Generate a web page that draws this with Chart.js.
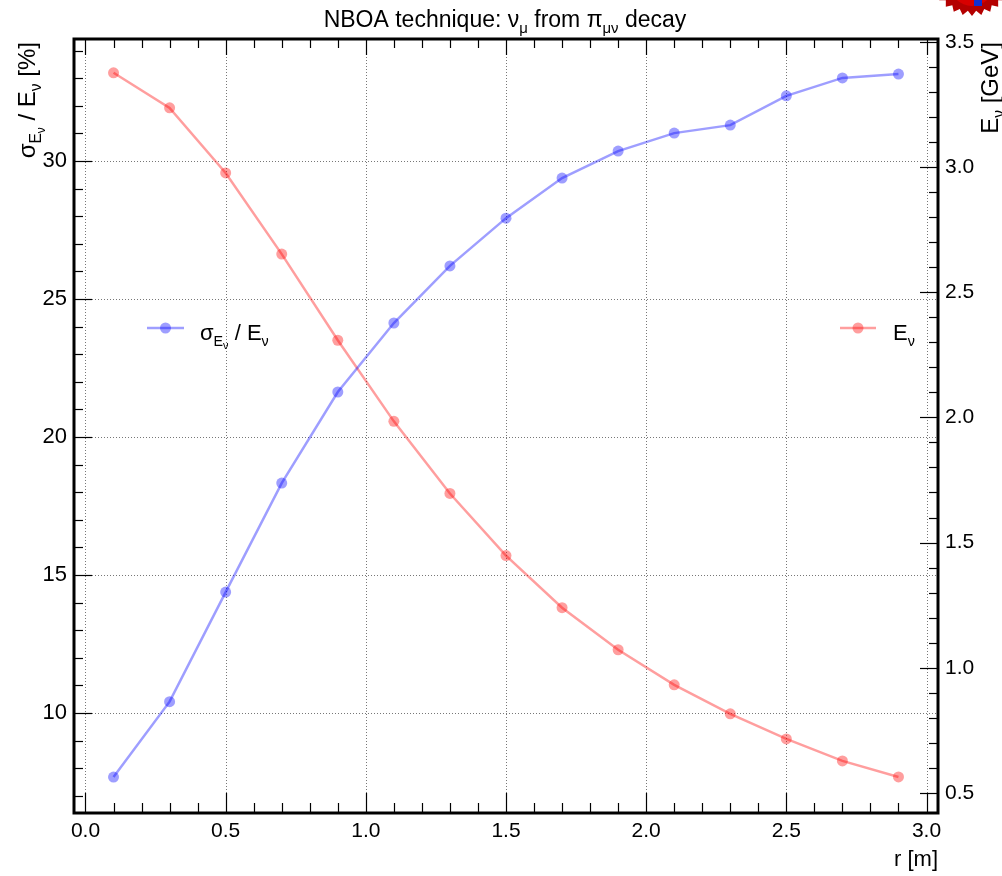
<!DOCTYPE html>
<html>
<head>
<meta charset="utf-8">
<script src="https://cdn.jsdelivr.net/npm/chart.js@4/dist/chart.umd.min.js"></script>
<style>
  html, body { margin: 0; padding: 0; background: #fff; }
  canvas { display: block; }
</style>
</head>
<body>
<canvas id="nboaChart" width="1002" height="876"></canvas>
<script>
// radius r [m] of the measurement points
const radius = [0.1, 0.3, 0.5, 0.7, 0.9, 1.1, 1.3, 1.5, 1.7, 1.9, 2.1, 2.3, 2.5, 2.7, 2.9];
// energy resolution sigma_E / E [%] (left axis)
const resolution = [7.68, 10.41, 14.38, 18.33, 21.63, 24.13, 26.20, 27.93, 29.38, 30.36, 31.01, 31.30, 32.36, 33.01, 33.15];
// mean neutrino energy E [GeV] (right axis)
const energy = [3.376, 3.236, 2.976, 2.652, 2.308, 1.984, 1.696, 1.448, 1.240, 1.072, 0.932, 0.816, 0.716, 0.628, 0.564];

// tick labels
const xTicks = [0.0, 0.5, 1.0, 1.5, 2.0, 2.5, 3.0];
const leftTicks = [10, 15, 20, 25, 30];
const rightTicks = [0.5, 1.0, 1.5, 2.0, 2.5, 3.0, 3.5];

const FONT = "'Liberation Sans', Arial, Helvetica, sans-serif";
const BLUE = 'rgba(0, 0, 255, 0.38)';
const RED = 'rgba(255, 0, 0, 0.38)';

// draw text made of parts: lvl 0 normal, 1 subscript, 2 sub-subscript
function richWidth(ctx, parts, size) {
    let w = 0;
    parts.forEach(p => {
        const s = size * [1, 0.65, 0.5][p.lvl || 0];
        ctx.font = `${s}px ${FONT}`;
        w += ctx.measureText(p.t).width;
    });
    return w;
}

function drawRich(ctx, parts, x, y, size, align) {
    const total = richWidth(ctx, parts, size);
    let cx = x;
    if (align === 'center') cx = x - total / 2;
    if (align === 'right') cx = x - total;
    ctx.textAlign = 'left';
    ctx.textBaseline = 'alphabetic';
    parts.forEach(p => {
        const lvl = p.lvl || 0;
        const s = size * [1, 0.65, 0.5][lvl];
        const dy = size * [0, 0.25, 0.42][lvl];
        ctx.font = `${s}px ${FONT}`;
        ctx.fillText(p.t, cx, y + dy);
        cx += ctx.measureText(p.t).width;
    });
}

function minorValues(min, max, step) {
    const out = [];
    for (let k = Math.ceil(min / step - 1e-6); k * step <= max + 1e-9; k++) out.push(+(k * step).toFixed(4));
    return out;
}

const rootStylePlugin = {
    id: 'rootStyle',
    beforeDatasetsDraw(chart) {
        const { ctx, chartArea: a, scales } = chart;
        ctx.save();
        ctx.strokeStyle = '#777';
        ctx.lineWidth = 1;
        ctx.setLineDash([1, 2]);
        xTicks.forEach(v => {
            const px = Math.round(scales.x.getPixelForValue(v)) + 0.5;
            ctx.beginPath(); ctx.moveTo(px, a.top); ctx.lineTo(px, a.bottom); ctx.stroke();
        });
        leftTicks.forEach(v => {
            const py = Math.round(scales.y.getPixelForValue(v)) + 0.5;
            ctx.beginPath(); ctx.moveTo(a.left, py); ctx.lineTo(a.right, py); ctx.stroke();
        });
        ctx.restore();
    },
    afterDatasetsDraw(chart) {
        const { ctx, chartArea: a, scales } = chart;
        const sx = scales.x, sy = scales.y, sy1 = scales.y1;
        ctx.save();
        ctx.strokeStyle = '#000';
        ctx.fillStyle = '#000';
        ctx.lineWidth = 1.2;

        // x ticks, bottom (up) and top (down)
        minorValues(sx.min, sx.max, 0.1).forEach(v => {
            const major = Math.abs(v * 2 - Math.round(v * 2)) < 1e-6;
            const px = Math.round(sx.getPixelForValue(v)) + 0.5;
            const len = major ? 20 : 10;
            ctx.beginPath(); ctx.moveTo(px, a.bottom); ctx.lineTo(px, a.bottom - len); ctx.stroke();
            ctx.beginPath(); ctx.moveTo(px, a.top); ctx.lineTo(px, a.top + (major ? 16 : 9)); ctx.stroke();
        });
        // left ticks
        minorValues(sy.min, sy.max, 1).forEach(v => {
            const major = v % 5 === 0;
            const py = Math.round(sy.getPixelForValue(v)) + 0.5;
            ctx.beginPath(); ctx.moveTo(a.left, py); ctx.lineTo(a.left + (major ? 18 : 9), py); ctx.stroke();
        });
        // right ticks
        minorValues(sy1.min, sy1.max, 0.1).forEach(v => {
            const major = Math.abs(v * 2 - Math.round(v * 2)) < 1e-6;
            const py = Math.round(sy1.getPixelForValue(v)) + 0.5;
            ctx.beginPath(); ctx.moveTo(a.right, py); ctx.lineTo(a.right - (major ? 18 : 9), py); ctx.stroke();
        });

        // frame
        ctx.lineWidth = 3;
        ctx.strokeRect(a.left, a.top, a.right - a.left, a.bottom - a.top);

        // tick labels
        ctx.font = `21px ${FONT}`;
        ctx.textAlign = 'center';
        ctx.textBaseline = 'middle';
        xTicks.forEach(v => ctx.fillText(v.toFixed(1), sx.getPixelForValue(v), a.bottom + 18));
        ctx.font = `22px ${FONT}`;
        ctx.textAlign = 'right';
        leftTicks.forEach(v => ctx.fillText(String(v), a.left - 7, sy.getPixelForValue(v)));
        ctx.font = `21px ${FONT}`;
        ctx.textAlign = 'left';
        rightTicks.forEach(v => ctx.fillText(v.toFixed(1), a.right + 7, sy1.getPixelForValue(v)));

        // title
        drawRich(ctx, [
            { t: 'NBOA technique: \u03bd' }, { t: '\u03bc', lvl: 1 },
            { t: ' from \u03c0' }, { t: '\u03bc\u03bd', lvl: 1 }, { t: ' decay' }
        ], 505, 27, 23, 'center');

        // x axis title
        drawRich(ctx, [{ t: 'r [m]' }], a.right, 866, 22, 'right');

        // left axis title (rotated)
        ctx.save();
        ctx.translate(35, 42);
        ctx.rotate(-Math.PI / 2);
        drawRich(ctx, [
            { t: '\u03c3' }, { t: 'E', lvl: 1 }, { t: '\u03bd', lvl: 2 },
            { t: ' / E' }, { t: '\u03bd', lvl: 1 }, { t: ' [%]' }
        ], 0, 0, 24, 'right');
        ctx.restore();

        // right axis title (rotated)
        ctx.save();
        ctx.translate(998, 42);
        ctx.rotate(-Math.PI / 2);
        drawRich(ctx, [{ t: 'E' }, { t: '\u03bd', lvl: 1 }, { t: ' [GeV]' }], 0, 0, 24, 'right');
        ctx.restore();

        // legend entries
        const legendEntry = (x0, x1, color, parts, tx) => {
            ctx.strokeStyle = color;
            ctx.lineWidth = 2.5;
            ctx.beginPath(); ctx.moveTo(x0, 328); ctx.lineTo(x1, 328); ctx.stroke();
            ctx.fillStyle = color;
            ctx.beginPath(); ctx.arc((x0 + x1) / 2, 328, 5.5, 0, Math.PI * 2); ctx.fill();
            ctx.fillStyle = '#000';
            drawRich(ctx, parts, tx, 340, 22, 'left');
        };
        legendEntry(147, 184, BLUE, [
            { t: '\u03c3' }, { t: 'E', lvl: 1 }, { t: '\u03bd', lvl: 2 }, { t: ' / E' }, { t: '\u03bd', lvl: 1 }
        ], 200);
        legendEntry(840, 876, RED, [{ t: 'E' }, { t: '\u03bd', lvl: 1 }], 893);

        // small logo in the top right corner
        ctx.fillStyle = '#b40000';
        ctx.beginPath();
        for (let i = 0; i <= 56; i++) {
            const ang = i / 56 * Math.PI * 2;
            const r = (i % 2 === 0) ? 42 : 37;
            const px = 972 + r * Math.cos(ang), py = -26 + r * Math.sin(ang);
            if (i === 0) ctx.moveTo(px, py); else ctx.lineTo(px, py);
        }
        ctx.closePath();
        ctx.fill();
        ctx.fillStyle = '#d80000';
        ctx.beginPath(); ctx.arc(972, -16, 22, 0, Math.PI * 2); ctx.fill();
        ctx.fillStyle = '#1030d0';
        ctx.fillRect(974, 0, 8, 6);

        ctx.restore();
    }
};

new Chart(document.getElementById('nboaChart').getContext('2d'), {
    type: 'scatter',
    data: {
        datasets: [
            {
                label: 'sigma/E',
                data: radius.map((r, i) => ({ x: r, y: resolution[i] })),
                yAxisID: 'y',
                showLine: true,
                borderColor: BLUE,
                borderWidth: 2.5,
                backgroundColor: BLUE,
                pointRadius: 5.5,
                pointBorderWidth: 0,
                tension: 0
            },
            {
                label: 'E',
                data: radius.map((r, i) => ({ x: r, y: energy[i] })),
                yAxisID: 'y1',
                showLine: true,
                borderColor: RED,
                borderWidth: 2.5,
                backgroundColor: RED,
                pointRadius: 5.5,
                pointBorderWidth: 0,
                tension: 0
            }
        ]
    },
    options: {
        responsive: false,
        animation: false,
        layout: { padding: { left: 74, right: 64, top: 39, bottom: 63 } },
        scales: {
            x: { type: 'linear', min: -0.041, max: 3.041, display: false },
            y: { type: 'linear', position: 'left', min: 6.377, max: 34.42, display: false },
            y1: { type: 'linear', position: 'right', min: 0.420, max: 3.511, display: false }
        },
        plugins: { legend: { display: false }, tooltip: { enabled: false }, title: { display: false } }
    },
    plugins: [rootStylePlugin]
});
</script>
</body>
</html>
